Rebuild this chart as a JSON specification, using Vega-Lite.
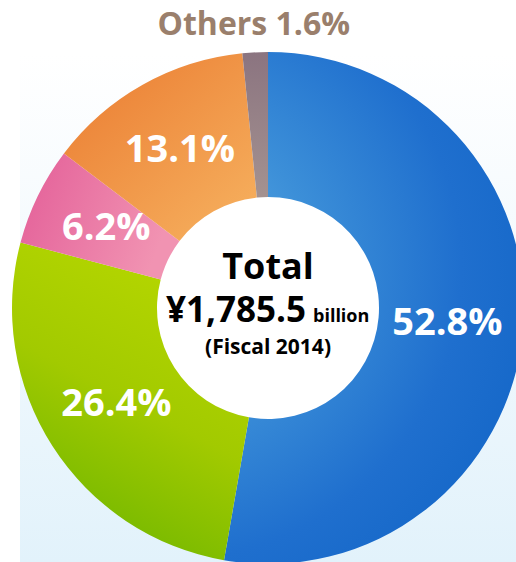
{
  "$schema": "https://vega.github.io/schema/vega-lite/v6.json",
  "width": 496,
  "height": 508,
  "autosize": {"type": "none"},
  "padding": {"left": 20, "top": 54, "right": 0, "bottom": 0},
  "background": "#ffffff",
  "config": {"view": {"stroke": null}, "text": {"font": "Open Sans"}},
  "datasets": {
    "shares": [
      {"name": "Blue", "idx": 1, "pct": 52.8, "lab": "52.8%", "top": ""},
      {"name": "Green", "idx": 2, "pct": 26.4, "lab": "26.4%", "top": ""},
      {"name": "Pink", "idx": 3, "pct": 6.2, "lab": "6.2%", "top": ""},
      {"name": "Orange", "idx": 4, "pct": 13.1, "lab": "13.1%", "top": ""},
      {"name": "Others", "idx": 5, "pct": 1.6, "lab": "", "top": "Others 1.6%"}
    ]
  },
  "layer": [
    {
      "data": {"values": [{"bg": 1}]},
      "mark": {
        "type": "rect",
        "fill": {"gradient": "linear", "x1": 0, "y1": 0, "x2": 0, "y2": 1,
          "stops": [{"offset": 0, "color": "#ffffff"}, {"offset": 1, "color": "#e2f2fb"}]}
      },
      "encoding": {}
    },
    {
      "data": {"values": [{"hole": 1}]},
      "mark": {"type": "arc", "outerRadius": 112, "innerRadius": 0, "fill": "#ffffff"},
      "encoding": {}
    },
    {
      "data": {"name": "shares"},
      "mark": {"type": "arc", "outerRadius": 256, "innerRadius": 111},
      "encoding": {
        "theta": {"field": "pct", "type": "quantitative", "stack": true},
        "order": {"field": "idx", "type": "quantitative"},
        "fill": {
          "condition": [
            {"test": "datum.name === 'Blue'", "value": {"gradient": "radial", "x1": 0.1, "y1": 0.42, "r1": 0, "x2": 0.1, "y2": 0.42, "r2": 0.95,
              "stops": [{"offset": 0, "color": "#62b0e4"}, {"offset": 0.3, "color": "#3c8fd8"}, {"offset": 0.6, "color": "#1f6fce"}, {"offset": 1, "color": "#0a5fc2"}]}},
            {"test": "datum.name === 'Green'", "value": {"gradient": "linear", "x1": 0.7, "y1": 0, "x2": 0.3, "y2": 1,
              "stops": [{"offset": 0, "color": "#b8d800"}, {"offset": 0.5, "color": "#a2ca00"}, {"offset": 1, "color": "#6cb500"}]}},
            {"test": "datum.name === 'Pink'", "value": {"gradient": "linear", "x1": 0, "y1": 0, "x2": 1, "y2": 0.3,
              "stops": [{"offset": 0, "color": "#e35e98"}, {"offset": 1, "color": "#f193b2"}]}},
            {"test": "datum.name === 'Orange'", "value": {"gradient": "linear", "x1": 0, "y1": 0, "x2": 0.9, "y2": 1,
              "stops": [{"offset": 0, "color": "#ea7a30"}, {"offset": 1, "color": "#f6b05e"}]}}
          ],
          "value": {"gradient": "linear", "x1": 0, "y1": 0, "x2": 0, "y2": 1,
            "stops": [{"offset": 0, "color": "#8b7480"}, {"offset": 1, "color": "#a49290"}]}
        }
      }
    },
    {
      "data": {"name": "shares"},
      "mark": {"type": "text", "radius": 180, "fontSize": 38, "fontWeight": "bold", "color": "#ffffff", "align": "center", "baseline": "middle"},
      "encoding": {
        "theta": {"field": "pct", "type": "quantitative", "stack": true},
        "order": {"field": "idx", "type": "quantitative"},
        "text": {"field": "lab"}
      }
    },
    {
      "data": {"name": "shares"},
      "mark": {"type": "text", "radius": 283, "fontSize": 32, "fontWeight": "bold", "color": "#9a7f6c", "align": "center", "baseline": "middle"},
      "encoding": {
        "theta": {"field": "pct", "type": "quantitative", "stack": true},
        "order": {"field": "idx", "type": "quantitative"},
        "text": {"field": "top"}
      }
    },
    {
      "data": {"values": [{"t": "Total"}]},
      "mark": {"type": "text", "fontSize": 36, "fontWeight": "bold", "color": "#000000", "align": "center", "baseline": "alphabetic", "dy": -29},
      "encoding": {"text": {"field": "t"}}
    },
    {
      "data": {"values": [{"t": "¥1,785.5"}]},
      "mark": {"type": "text", "fontSize": 35, "fontWeight": "bold", "color": "#000000", "align": "right", "baseline": "alphabetic", "dx": 38, "dy": 14},
      "encoding": {"text": {"field": "t"}}
    },
    {
      "data": {"values": [{"t": "billion"}]},
      "mark": {"type": "text", "fontSize": 18, "fontWeight": "bold", "color": "#000000", "align": "left", "baseline": "alphabetic", "dx": 45, "dy": 14},
      "encoding": {"text": {"field": "t"}}
    },
    {
      "data": {"values": [{"t": "(Fiscal 2014)"}]},
      "mark": {"type": "text", "fontSize": 21, "fontWeight": "bold", "color": "#000000", "align": "center", "baseline": "alphabetic", "dy": 46},
      "encoding": {"text": {"field": "t"}}
    }
  ]
}
